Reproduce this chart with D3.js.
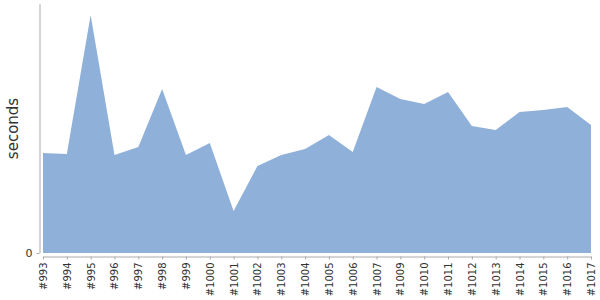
<!DOCTYPE html>
<html>
<head>
<meta charset="utf-8">
<script src="https://cdn.jsdelivr.net/npm/d3@7"></script>
<style>
  html, body { margin: 0; padding: 0; background: #fff; }
  svg { display: block; }
  text { font-family: "DejaVu Sans", Verdana, sans-serif; fill: #333; }
</style>
</head>
<body>
<svg id="chart" width="600" height="300"></svg>
<script>
const builds = ["#993","#994","#995","#996","#997","#998","#999","#1000","#1001","#1002","#1003","#1004",
                "#1005","#1006","#1007","#1009","#1010","#1011","#1012","#1013","#1014","#1015","#1016","#1017"];
const seconds = [100, 99, 238, 98, 106, 164, 98, 110, 42, 87, 98, 104,
                 118, 101, 166, 154, 149, 161, 127, 123, 141, 143, 146, 128];
const yTicks = [0];
const yMax = 249;

const svg = d3.select("#chart");
const margin = { left: 43, right: 9, top: 4, bottom: 47 };
const W = 600, H = 300;

const x = d3.scalePoint().domain(builds).range([margin.left, W - margin.right]);
const y = d3.scaleLinear().domain([0, yMax]).range([H - margin.bottom, margin.top]);

const area = d3.area()
  .x((d, i) => x(builds[i]))
  .y0(y(0))
  .y1(d => y(d));

svg.append("path")
  .datum(seconds)
  .attr("d", area)
  .attr("fill", "#8fb1d9");

// y axis
const yAxis = svg.append("g")
  .attr("transform", `translate(${margin.left - 3.5},0)`)
  .call(d3.axisLeft(y).tickValues(yTicks).tickSize(3).tickSizeOuter(0).tickPadding(4));
yAxis.select(".domain").attr("stroke", "#aaa").attr("d", `M0.5,${y(yMax)}V${y(0)}`);
yAxis.selectAll(".tick line").attr("stroke", "#aaa");
yAxis.selectAll(".tick text").style("font-size", "11px").attr("fill", "#444");

// x axis
const xAxis = svg.append("g")
  .attr("transform", `translate(0,${H - margin.bottom + 3.5})`)
  .call(d3.axisBottom(x).tickSize(3).tickSizeOuter(0).tickPadding(4));
xAxis.select(".domain").attr("stroke", "#aaa");
xAxis.selectAll(".tick line").attr("stroke", "#aaa");
xAxis.selectAll(".tick text")
  .style("font-size", "10px")
  .attr("fill", "#111")
  .attr("text-anchor", "end")
  .attr("transform", "rotate(-90)")
  .attr("x", -6)
  .attr("y", 0)
  .attr("dy", "0.35em");

// y label
svg.append("text")
  .attr("transform", `translate(18,${(margin.top + H - margin.bottom) / 2}) rotate(-90)`)
  .attr("text-anchor", "middle")
  .style("font-size", "15px")
  .attr("fill", "#444")
  .text("seconds");
</script>
</body>
</html>
